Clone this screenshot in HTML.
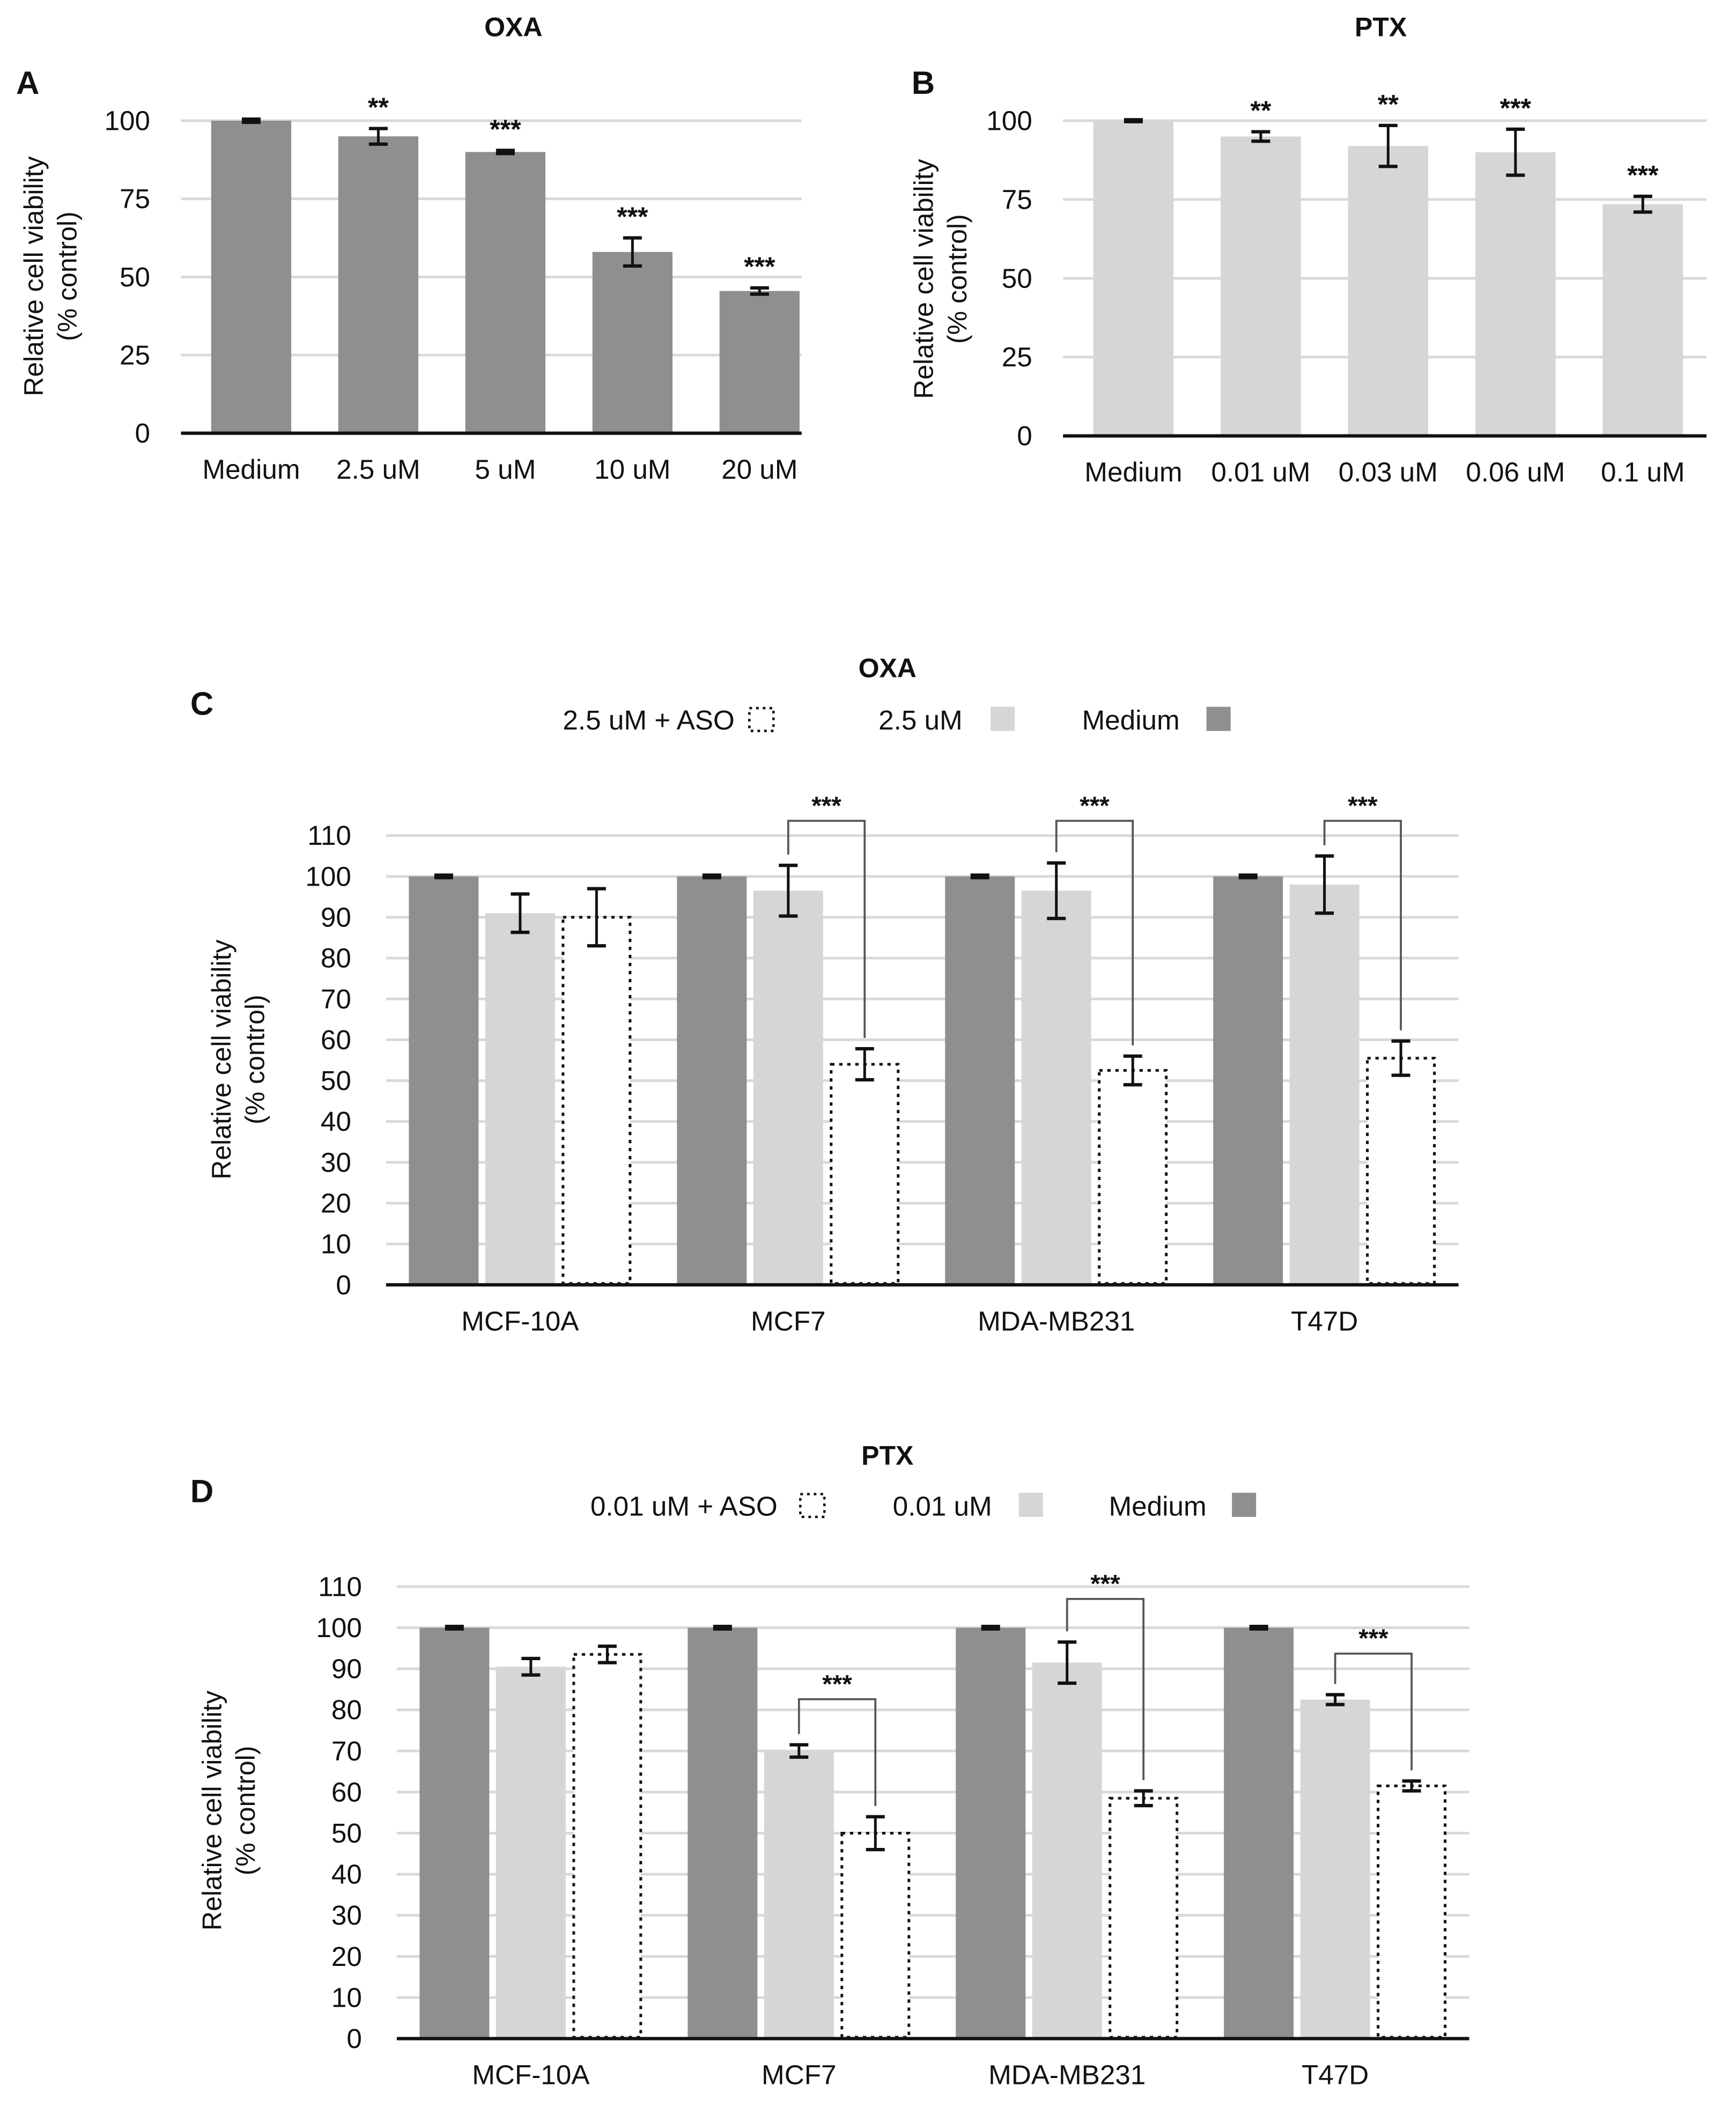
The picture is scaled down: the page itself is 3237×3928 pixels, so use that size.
<!DOCTYPE html>
<html><head><meta charset="utf-8">
<style>
html,body{margin:0;padding:0;background:#fff;}
svg{display:block;}
text{font-family:"Liberation Sans",Arial,sans-serif;fill:#111;}
</style></head>
<body>
<svg id="fig" width="3237" height="3928" viewBox="0 0 1295 1571" preserveAspectRatio="none" xmlns="http://www.w3.org/2000/svg">
<rect x="0" y="0" width="1295" height="1571" fill="#fff"/>
</svg>
<script>
// ---- Panel A data ----
const aCats = ["Medium","2.5 uM","5 uM","10 uM","20 uM"];
const aVals = [100,95,90,58,45.5];
const aErr = [0.5,2.5,0.5,4.5,1];
const aStars = ["","**","***","***","***"];
const aTicks = [0,25,50,75,100];
// ---- Panel B data ----
const bCats = ["Medium","0.01 uM","0.03 uM","0.06 uM","0.1 uM"];
const bVals = [100,95,92,90,73.5];
const bErr = [0.3,1.5,6.5,7.3,2.5];
const bStars = ["","**","**","***","***"];
const bTicks = [0,25,50,75,100];
// ---- Panel C data ----
const cCats = ["MCF-10A","MCF7","MDA-MB231","T47D"];
const cMedium = [100,100,100,100];
const cMediumErr = [0.3,0.3,0.3,0.3];
const cDrug = [91,96.5,96.5,98];
const cDrugErr = [4.7,6.2,6.8,7];
const cAso = [90,54,52.5,55.5];
const cAsoErr = [7,3.8,3.5,4.2];
const cBracket = [null,113.6,113.6,113.6];
const cTicks = [0,10,20,30,40,50,60,70,80,90,100,110];
// ---- Panel D data ----
const dCats = ["MCF-10A","MCF7","MDA-MB231","T47D"];
const dMedium = [100,100,100,100];
const dMediumErr = [0.3,0.3,0.3,0.3];
const dDrug = [90.5,70,91.5,82.5];
const dDrugErr = [2,1.5,5,1.2];
const dAso = [93.5,50,58.5,61.5];
const dAsoErr = [2,4,1.8,1.2];
const dBracket = [null,82.6,107,93.7];
const dTicks = [0,10,20,30,40,50,60,70,80,90,100,110];

const NS="http://www.w3.org/2000/svg";
const svg=document.getElementById('fig');
function el(tag,attrs,parent){const e=document.createElementNS(NS,tag);for(const k in attrs)e.setAttribute(k,attrs[k]);(parent||svg).appendChild(e);return e;}
function txt(s,x,y,size,opts,parent){const t=el('text',Object.assign({x:x,y:y,'font-size':size},opts||{}),parent);t.textContent=s;return t;}
function errbar(g,cx,yTop,yBot,w){
  const a=el('line',{x1:cx,x2:cx,y1:yTop,y2:yBot,stroke:'#111','stroke-width':2},g);
  
  
  el('line',{x1:cx-w,x2:cx+w,y1:yTop,y2:yTop,stroke:'#111','stroke-width':2.5},g);
  el('line',{x1:cx-w,x2:cx+w,y1:yBot,y2:yBot,stroke:'#111','stroke-width':2.5},g);
}

function simplePanel(name,x0,x1,axEnd,y0,yTop,maxV,cats,vals,errs,stars,ticks,fill){
  const g=el('g',{});
  
  
  const ys=v=>y0-(v/maxV)*(y0-yTop);
  const n=cats.length, cw=(x1-x0)/n, bw=cw*0.63;
  const xs=i=>x0+cw*(i+0.5);
  ticks.forEach(t=>{
    if(t>0){const l=el('line',{x1:x0-5,x2:axEnd,y1:ys(t),y2:ys(t),stroke:'#d9d9d9','stroke-width':2},g);
      }
    const tl=txt(String(t),x0-28,ys(t)+7,20.5,{'text-anchor':'end'},g);
    
    
  });
  cats.forEach((c,i)=>{
    const r=el('rect',{x:xs(i)-bw/2,y:ys(vals[i]),width:bw,height:y0-ys(vals[i]),fill:fill},g);
    
    
    errbar(g,xs(i),ys(vals[i]+errs[i]),ys(vals[i]-errs[i]),7);
    if(stars[i]){const s=txt(stars[i],xs(i),ys(vals[i]+errs[i])-9,20,{'text-anchor':'middle','font-weight':'bold'},g);
      }
    const xl=txt(c,xs(i),y0+34,20.5,{'text-anchor':'middle'},g);
    
    
  });
  const ax=el('line',{x1:x0-5,x2:axEnd,y1:y0,y2:y0,stroke:'#111','stroke-width':2.5},g);
  
  
}

function groupedPanel(name,x0,x1,y0,yTop,maxV,cats,med,medE,drug,drugE,aso,asoE,br,ticks){
  const g=el('g',{});
  
  
  const ys=v=>y0-(v/maxV)*(y0-yTop);
  const n=cats.length, cw=(x1-x0)/n, bw=52, step=57;
  const xs=i=>x0+cw*(i+0.5);
  ticks.forEach(t=>{
    if(t>0){const l=el('line',{x1:x0,x2:x1,y1:ys(t),y2:ys(t),stroke:'#d9d9d9','stroke-width':2},g);
      }
    const tl=txt(String(t),x0-26,ys(t)+7,20.5,{'text-anchor':'end'},g);
    
    
  });
  cats.forEach((c,i)=>{
    const cx=xs(i);
    const m=el('rect',{x:cx-step-bw/2,y:ys(med[i]),width:bw,height:y0-ys(med[i]),fill:'#8f8f8f'},g);
    
    
    errbar(g,cx-step,ys(med[i]+medE[i]),ys(med[i]-medE[i]),7);
    const d=el('rect',{x:cx-bw/2,y:ys(drug[i]),width:bw,height:y0-ys(drug[i]),fill:'#d6d6d6'},g);
    
    
    errbar(g,cx,ys(drug[i]+drugE[i]),ys(drug[i]-drugE[i]),7);
    const a=el('rect',{x:cx+step-bw/2+1,y:ys(aso[i]),width:bw-2,height:y0-ys(aso[i])-1,fill:'#fff',stroke:'#111','stroke-width':2,'stroke-dasharray':'2.5,3.5'},g);
    
    
    errbar(g,cx+step,ys(aso[i]+asoE[i]),ys(aso[i]-asoE[i]),7);
    if(br[i]!=null){
      const yb=ys(br[i]);
      const p=el('polyline',{points:`${cx},${ys(drug[i]+drugE[i])-8} ${cx},${yb} ${cx+step},${yb} ${cx+step},${ys(aso[i]+asoE[i])-8}`,fill:'none',stroke:'#555','stroke-width':1.5},g);
      
      
      const s=txt('***',cx+step/2,yb-5,19,{'text-anchor':'middle','font-weight':'bold'},g);
      
      
    }
    const xl=txt(c,cx,y0+34,20.5,{'text-anchor':'middle'},g);
    
    
  });
  const ax=el('line',{x1:x0,x2:x1,y1:y0,y2:y0,stroke:'#111','stroke-width':2.5},g);
  
  
}

function yTitle(name,x,cy){
  const t=el('text',{transform:`translate(${x},${cy}) rotate(-90)`,'text-anchor':'middle','font-size':20});
  
  
  const t1=el('tspan',{x:0,dy:0},t);t1.textContent='Relative cell viability';
  const t2=el('tspan',{x:0,dy:25},t);t2.textContent='(% control)';
}
function label(s,x,y,size,name,bold,anchor){
  const t=txt(s,x,y,size,{'font-weight':bold?'bold':'normal','text-anchor':anchor||'start'});
  
  
  return t;
}
function legendBox(x,y,type,name){
  const r=el('rect',type==='aso'?{x:x,y:y,width:18,height:17,fill:'#fff',stroke:'#111','stroke-width':1.8,'stroke-dasharray':'2,3'}:{x:x,y:y,width:18,height:18,fill:type==='drug'?'#d6d6d6':'#8f8f8f'});
  
  
}

// Panel A
label('OXA',383,27,20,'panel-a-title',true,'middle');
label('A',12,70,24,'panel-a-letter',true);
yTitle('panel-a-y-axis-title',32,206);
simplePanel('panel-a-chart',140,614,598,323,90,100,aCats,aVals,aErr,aStars,aTicks,'#8f8f8f');

// Panel B
label('PTX',1030,27,20,'panel-b-title',true,'middle');
label('B',680,70,24,'panel-b-letter',true);
yTitle('panel-b-y-axis-title',696,208);
simplePanel('panel-b-chart',798,1273,1273,325,90,100,bCats,bVals,bErr,bStars,bTicks,'#d6d6d6');

// Panel C
label('OXA',662,505,20,'panel-c-title',true,'middle');
label('C',142,533,24,'panel-c-letter',true);
label('2.5 uM + ASO',548,544,20.5,'legend-aso-label',false,'end');
legendBox(559,528,'aso','legend-aso-swatch');
label('2.5 uM',718,544,20.5,'legend-drug-label',false,'end');
legendBox(739,527,'drug','legend-drug-swatch');
label('Medium',880,544,20.5,'legend-medium-label',false,'end');
legendBox(900,527,'medium','legend-medium-swatch');
yTitle('panel-c-y-axis-title',172,790);
groupedPanel('panel-c-chart',288,1088,958,623,110,cCats,cMedium,cMediumErr,cDrug,cDrugErr,cAso,cAsoErr,cBracket,cTicks);

// Panel D
label('PTX',662,1092,20,'panel-d-title',true,'middle');
label('D',142,1120,24,'panel-d-letter',true);
label('0.01 uM + ASO',580,1130,20.5,'legend-aso-label',false,'end');
legendBox(597,1114,'aso','legend-aso-swatch');
label('0.01 uM',740,1130,20.5,'legend-drug-label',false,'end');
legendBox(760,1113,'drug','legend-drug-swatch');
label('Medium',900,1130,20.5,'legend-medium-label',false,'end');
legendBox(919,1113,'medium','legend-medium-swatch');
yTitle('panel-d-y-axis-title',165,1350);
groupedPanel('panel-d-chart',296,1096,1520,1183,110,dCats,dMedium,dMediumErr,dDrug,dDrugErr,dAso,dAsoErr,dBracket,dTicks);
</script>
</body></html>
